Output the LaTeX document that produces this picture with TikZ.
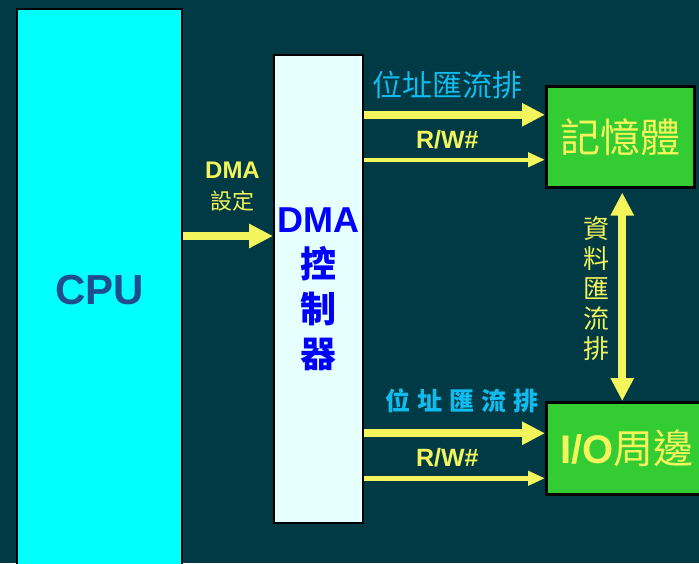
\documentclass[tikz,border=0pt]{standalone}
\usepackage{fontspec}
\setmainfont{Liberation Sans}
\newfontfamily\cjk{Noto Sans CJK TC}
\usepackage{tikz}
\usetikzlibrary{arrows.meta,positioning}
\definecolor{bgteal}{HTML}{003A44}
\definecolor{cpucyan}{HTML}{00FFFF}
\definecolor{cputext}{HTML}{1F4E8C}
\definecolor{dmafill}{HTML}{E6FFFF}
\definecolor{memgreen}{HTML}{33CC33}
\definecolor{busyellow}{HTML}{F4F45C}
\definecolor{addrcyan}{HTML}{11BBEE}

\begin{document}
\begin{tikzpicture}[
  x=1pt, y=-1pt,
  box/.style={draw=black,line width=2pt,anchor=north west,inner sep=0pt},
  unit/.style={box,line width=2.5pt,fill=memgreen,text=busyellow,font=\cjk\fontsize{40}{44}\selectfont},
  bus/.style={busyellow,line width=8pt,-{Triangle[length=23pt,width=22pt]}},
  ctl/.style={busyellow,line width=4.5pt,-{Triangle[length=17pt,width=14pt]}},
  lbl/.style={inner sep=0pt}
]
\fill[bgteal] (0,0) rectangle (699,563);
\useasboundingbox (0,0) rectangle (699,563);

\node[box,fill=cpucyan,minimum width=165pt,minimum height=562pt,text=cputext,
      font=\bfseries\fontsize{42}{42}\selectfont] (cpu) at (16,8) {CPU};
\node[box,fill=dmafill,minimum width=89pt,minimum height=468pt,text=blue,align=center,
      font=\bfseries\fontsize{36}{45}\selectfont] (dma) at (273,54)
  {DMA\\{\cjk 控}\\{\cjk 制}\\{\cjk 器}};
\node[unit,minimum width=148pt,minimum height=101pt] (mem) at (545,85) {記憶體};
\node[unit,minimum width=162pt,minimum height=92pt] (io) at (545,401) {{\rmfamily\bfseries I/O}周邊};

% CPU -> DMA
\coordinate (setup) at (dma.west |- 0,236);
\draw[bus,-{Triangle[length=24pt,width=23pt]}] (cpu.east |- setup) -- (setup)
  node[pos=0.55,above=21pt,lbl,align=center,text=busyellow,font=\bfseries\fontsize{24}{31}\selectfont]
  {DMA\\{\cjk\mdseries\fontsize{22}{22}\selectfont 設定}};

% DMA -> memory
\coordinate (maddr) at ([yshift=22pt]mem.west);
\coordinate (mrw) at ([yshift=-23pt]mem.west);
\draw[bus] (dma.east |- maddr) -- (maddr)
  node[pos=0.46,above=12pt,lbl,text=addrcyan,font=\cjk\fontsize{30}{30}\selectfont] {位址匯流排};
\draw[ctl] (dma.east |- mrw) -- (mrw)
  node[pos=0.46,above=9pt,lbl,text=busyellow,font=\bfseries\fontsize{25}{25}\selectfont] {R/W\#};

% DMA -> I/O
\coordinate (iaddr) at ([yshift=15pt]io.west);
\coordinate (irw) at ([yshift=-30pt]io.west);
\draw[bus] (dma.east |- iaddr) -- (iaddr)
  node[pos=0.54,above=16pt,lbl,text=addrcyan,font=\cjk\bfseries\fontsize{25}{25}\selectfont]
  {位\hspace{7pt}址\hspace{7pt}匯\hspace{7pt}流\hspace{7pt}排};
\draw[ctl] (dma.east |- irw) -- (irw)
  node[pos=0.46,above=9pt,lbl,text=busyellow,font=\bfseries\fontsize{25}{25}\selectfont] {R/W\#};

% data bus
\coordinate (dtop) at ([xshift=2pt,yshift=-4pt]mem.south);
\draw[bus,{Triangle[length=23pt,width=22pt]}-{Triangle[length=23pt,width=22pt]}] (dtop) -- (dtop |- io.north)
  node[midway,left=9pt,yshift=8pt,lbl,align=center,text=busyellow,font=\cjk\fontsize{26}{30}\selectfont]
  {資\\料\\匯\\流\\排};
\end{tikzpicture}
\end{document}
